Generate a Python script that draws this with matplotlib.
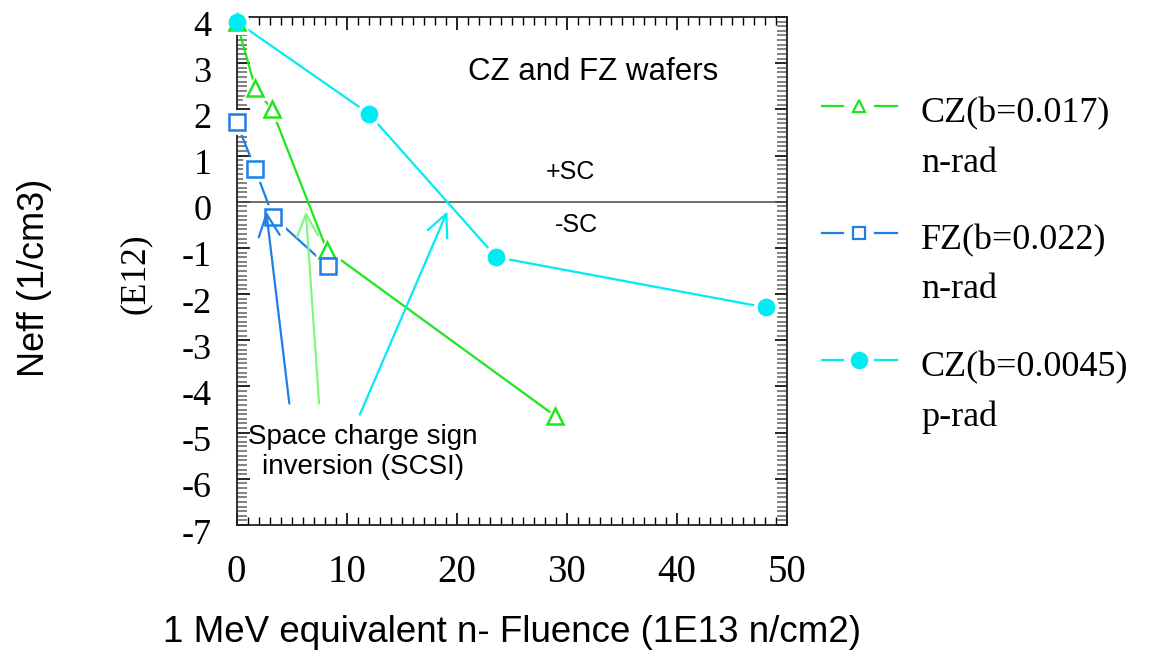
import matplotlib
matplotlib.use("Agg")
import matplotlib.pyplot as plt
from matplotlib.lines import Line2D
from matplotlib.ticker import MultipleLocator
from matplotlib.transforms import ScaledTranslation

plt.rcParams['axes.unicode_minus'] = False

# Neff (E12 /cm3) versus 1 MeV equivalent fluence (1E13 n/cm2)
cz_n_fluence = [0.0, 1.7, 3.2, 8.2, 28.9]
cz_n_neff = [3.9, 2.47, 2.0, -1.04, -4.63]

fz_n_fluence = [0.0, 1.7, 3.3, 8.3]
fz_n_neff = [1.72, 0.71, -0.32, -1.40]

cz_p_fluence = [0.0, 12.0, 23.6, 48.1]
cz_p_neff = [3.9, 1.91, -1.20, -2.29]

series_labels = [("CZ(b=0.017)", "n-rad"), ("FZ(b=0.022)", "n-rad"), ("CZ(b=0.0045)", "p-rad")]

# Fluence where each curve crosses Neff = 0 (space charge sign inversion)
scsi_fluence = [2.7, 6.3, 19.15]

x_ticks = [0, 10, 20, 30, 40, 50]
y_ticks = [4, 3, 2, 1, 0, -1, -2, -3, -4, -5, -6, -7]

GREEN = "#1ee61e"
BLUE = "#1f7fe8"
CYAN = "#00ecf4"
LIGHT_GREEN = "#80f880"

SANS = "Liberation Sans"
SERIF = "Liberation Serif"

fig = plt.figure(figsize=(11.49, 6.53), dpi=100)
ax = fig.add_axes([236.5 / 1149, 1 - 525 / 653, (787 - 236.5) / 1149, (525 - 17) / 653])
ax.set_xlim(0, 50)
ax.set_ylim(-7, 4)


def draw_series(xs, ys, color, marker, ms, filled):
    ax.plot(xs, ys, color=color, lw=1.6, zorder=3, clip_on=False)
    # white halo so the line stops short of every marker
    ax.plot(xs, ys, ls="none", marker=marker, ms=ms + 5, mfc="white", mec="white",
            mew=2, zorder=4, clip_on=False)
    ax.plot(xs, ys, ls="none", marker=marker, ms=ms,
            mfc=color if filled else "white", mec=color, mew=1.8, zorder=5, clip_on=False)


# zero line
ax.axhline(0, color="#555555", lw=1.2, zorder=2)

draw_series(cz_n_fluence, cz_n_neff, GREEN, "^", 11, False)
draw_series(fz_n_fluence, fz_n_neff, BLUE, "s", 11, False)
draw_series(cz_p_fluence, cz_p_neff, CYAN, "o", 11, True)

# SCSI arrows
arrow_tails = [(4.8, -4.37), (7.5, -4.37), (11.2, -4.61)]
arrow_colors = [BLUE, LIGHT_GREEN, CYAN]
for xf, (tx, ty), c in zip(scsi_fluence, arrow_tails, arrow_colors):
    ax.annotate("", xy=(xf, -0.21), xytext=(tx, ty),
                arrowprops=dict(arrowstyle="->,head_length=0.8,head_width=0.38",
                                color=c, lw=1.6, shrinkA=0, shrinkB=0,
                                mutation_scale=20),
                zorder=6)

ax.text(11.5, -5.42, "Space charge sign\ninversion (SCSI)", ha="center", va="center",
        fontsize=20, family=SANS, linespacing=1.2)
ax.text(32.4, 2.81, "CZ and FZ wafers", ha="center", va="center", fontsize=22.5, family=SANS)
ax.text(30.3, 0.65, "+SC", ha="center", va="center", fontsize=18, family=SANS)
ax.text(30.9, -0.5, "-SC", ha="center", va="center", fontsize=18, family=SANS)

# axes, ticks
ax.set_xticks(x_ticks)
ax.set_yticks(y_ticks)
ax.xaxis.set_minor_locator(MultipleLocator(1))
ax.yaxis.set_minor_locator(MultipleLocator(0.1))
ax.tick_params(axis="both", which="both", direction="in", top=True, right=True)
ax.tick_params(axis="both", which="major", length=9, width=1.2, color="black")
ax.tick_params(axis="x", which="minor", length=6, width=1.0, color="black")
ax.tick_params(axis="y", which="minor", length=7, width=1.3, color="#777777")
ax.tick_params(axis="y", which="major", pad=18, labelsize=26)
ax.tick_params(axis="x", which="major", pad=21, labelsize=28)
for lab in ax.get_xticklabels() + ax.get_yticklabels():
    lab.set_family(SERIF)
# value labels on the y axis sit slightly below their ticks
shift_down = ScaledTranslation(0, -6 / 100, fig.dpi_scale_trans)
for lab in ax.get_yticklabels():
    lab.set_transform(lab.get_transform() + shift_down)
for s in ax.spines.values():
    s.set_linewidth(1.3)
    s.set_color("#222222")

# axis titles
fig.text(512 / 1149, 1 - 632 / 653, "1 MeV equivalent n- Fluence (1E13 n/cm2)",
         ha="center", va="center", fontsize=26.5, family=SANS)
fig.text(35 / 1149, 1 - 278 / 653, "Neff (1/cm3)", ha="center", va="center",
         rotation=90, fontsize=26, family=SANS)
fig.text(135 / 1149, 1 - 274 / 653, "(E12)", ha="center", va="center",
         rotation=90, fontsize=25.5, family=SERIF)

# legend drawn beside the axes
legend_rows_y = [106, 233, 360]
legend_styles = [(GREEN, "^", False, 9), (BLUE, "s", False, 9), (CYAN, "o", True, 11)]
for (name, kind), y, (c, m, filled, ms) in zip(series_labels, legend_rows_y, legend_styles):
    yf = 1 - y / 653
    for x0, x1 in [(822, 843), (875, 897)]:
        fig.add_artist(Line2D([x0 / 1149, x1 / 1149], [yf, yf], color=c, lw=1.6,
                              transform=fig.transFigure))
    fig.add_artist(Line2D([859 / 1149], [yf], ls="none", marker=m, ms=ms,
                          mfc=c if filled else "white", mec=c, mew=1.6,
                          transform=fig.transFigure))
    fig.text(921 / 1149, 1 - (y + 8) / 653, name, ha="left", va="center",
             fontsize=26, family=SERIF)
    fig.text(921 / 1149, 1 - (y + 57) / 653, kind, ha="left", va="center",
             fontsize=26, family=SERIF)

fig.savefig("out.png", dpi=100, facecolor="white")
